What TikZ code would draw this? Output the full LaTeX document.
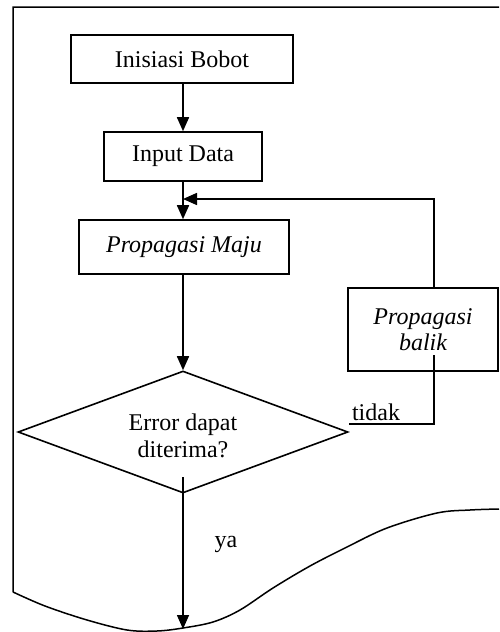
\documentclass[tikz,border=0pt]{standalone}
\usepackage{fontspec}
\setmainfont{Liberation Serif}
\usetikzlibrary{arrows.meta,shapes.geometric}
\begin{document}
\begin{tikzpicture}[x=1pt,y=-1pt,
  every node/.style={font=\fontsize{24}{27}\selectfont},
  box/.style={draw,line width=1.6pt,inner sep=0pt,align=center},
  dec/.style={draw,diamond,line width=1.6pt,inner sep=0pt,aspect=2.7,minimum width=330pt,minimum height=122pt},
  line/.style={line width=1.6pt},
  arr/.style={line width=1.6pt,-{Triangle[length=14pt,width=12pt]}}]
\useasboundingbox (0,0) rectangle (499,632);
% frame
\draw[line width=1.5pt] (499,7) -- (13,7) -- (13,592)
  plot[smooth,tension=0.55] coordinates {(13,592) (45,606) (87,620) (127,630) (157,631) (183,628) (213,622) (240,610) (273,588) (310,566) (347,547) (387,528) (437,513) (470,510) (499,509)};
% nodes
\node[box,minimum width=222pt,minimum height=48pt] (init) at (182,59) {Inisiasi Bobot};
\node[box,minimum width=158pt,minimum height=49pt] (input) at (183,156.5) {Input Data};
\node[box,minimum width=210pt,minimum height=54pt] (maju) at (184,247) {\itshape Propagasi Maju};
\node[box,minimum width=150pt,minimum height=83pt] (balik) at (423,329.5) {\itshape Propagasi\\[-1pt]\itshape balik};
\node[dec] (err) at (183,432) {};
\node[inner sep=0pt,align=center] (errtext) at (183,436) {Error dapat\\diterima?};
% coordinates
\coordinate (fbtop) at (434,199);
\coordinate (join) at (183,199);
\coordinate (bstart) at (434,355);
\coordinate (bcorner) at (434,424);
\coordinate (yastart) at (183,477);
\coordinate (yaend) at (183,629);
% connectors
\draw[arr] (init.south -| input) -- (input.north);
\draw[arr] (input.south) -- (maju.north -| input);
\draw[arr] (maju.south -| err.north) -- (err.north);
\draw[arr] (balik.north -| fbtop) -- (fbtop) -- (join);
\draw[line] (bstart) -- (bcorner) -- (err.east |- bcorner);
\draw[arr] (yastart) -- (yaend);
% labels
\node[inner sep=0pt] (tidak) at (376,412) {tidak};
\node[inner sep=0pt] (ya) at (226,544) {ya};
\end{tikzpicture}
\end{document}
